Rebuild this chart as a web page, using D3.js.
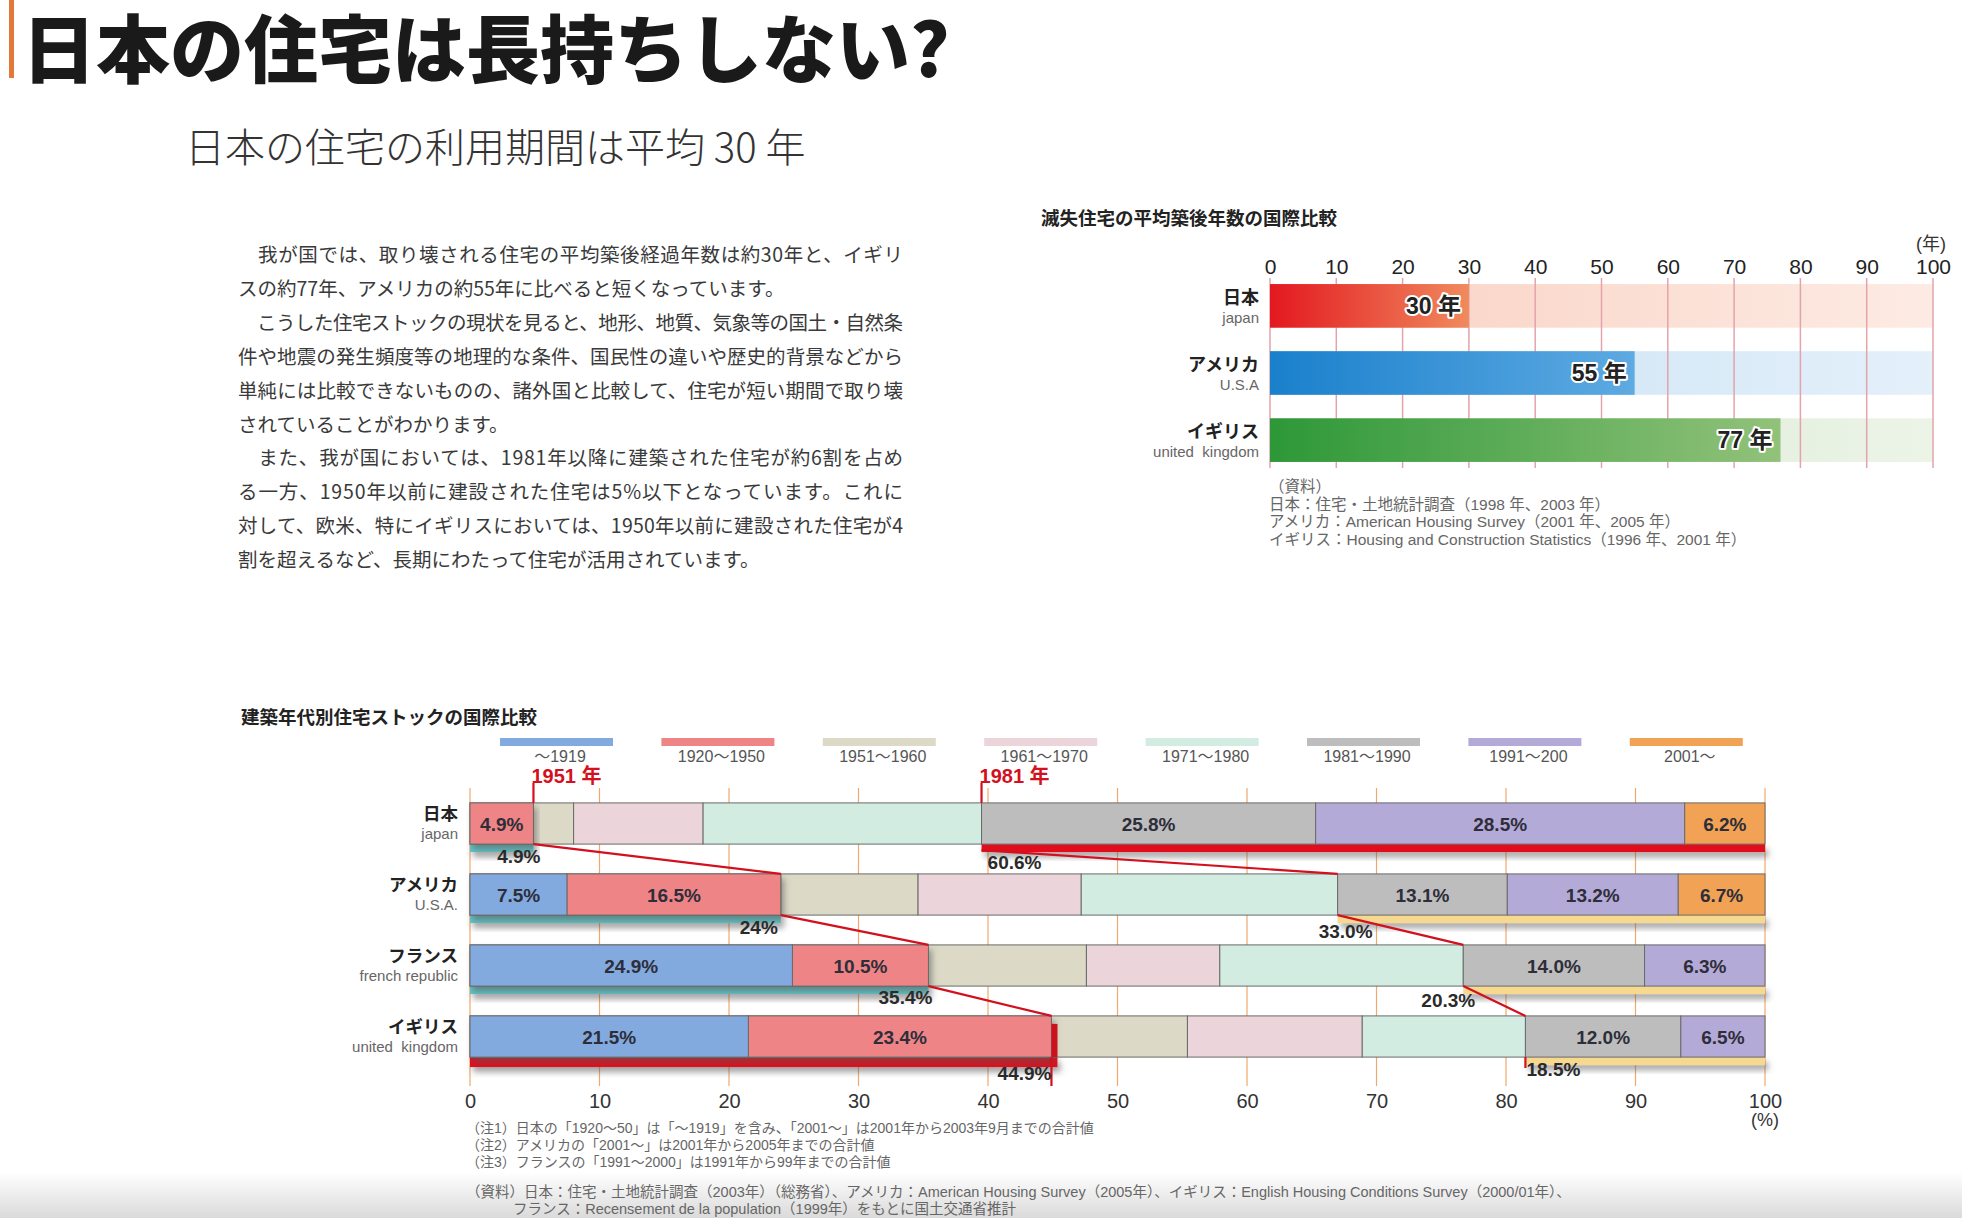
<!DOCTYPE html>
<html>
<head>
<meta charset="utf-8">
<script src="https://cdn.jsdelivr.net/npm/d3@7"></script>
<style>
  html, body { margin: 0; padding: 0; background: #fff; }
  svg text { font-family: "Noto Sans CJK JP", "Noto Sans", sans-serif; }
  .num { font-family: "Liberation Sans Narrow", "Liberation Sans", "Noto Sans CJK JP", sans-serif; }
</style>
</head>
<body>
<div id="chart"></div>
<script>
// ---- text ----
const mainTitle = "日本の住宅は長持ちしない?";
const subTitle = "日本の住宅の利用期間は平均 30 年";
const bodyLines = [
    "　我が国では、取り壊される住宅の平均築後経過年数は約30年と、イギリ",
    "スの約77年、アメリカの約55年に比べると短くなっています。",
    "　こうした住宅ストックの現状を見ると、地形、地質、気象等の国土・自然条",
    "件や地震の発生頻度等の地理的な条件、国民性の違いや歴史的背景などから",
    "単純には比較できないものの、諸外国と比較して、住宅が短い期間で取り壊",
    "されていることがわかります。",
    "　また、我が国においては、1981年以降に建築された住宅が約6割を占め",
    "る一方、1950年以前に建設された住宅は5%以下となっています。これに",
    "対して、欧米、特にイギリスにおいては、1950年以前に建設された住宅が4",
    "割を超えるなど、長期にわたって住宅が活用されています。"
];
const bodyFull = [true, false, true, true, true, false, true, true, true, false];

// ---- chart 1: average age of demolished houses ----
const lifeTitle = "滅失住宅の平均築後年数の国際比較";
const lifeCountries = ["日本", "アメリカ", "イギリス"];
const lifeCountriesEn = ["japan", "U.S.A", "united  kingdom"];
const lifeYears = [30, 55, 77];
const lifeTicks = [0, 10, 20, 30, 40, 50, 60, 70, 80, 90, 100];
const lifeSource = [
    "（資料）",
    "日本：住宅・土地統計調査（1998 年、2003 年）",
    "アメリカ：American Housing Survey（2001 年、2005 年）",
    "イギリス：Housing and Construction Statistics（1996 年、2001 年）"
];

// ---- chart 2: housing stock by construction period ----
const stockTitle = "建築年代別住宅ストックの国際比較";
const periods = ["～1919", "1920～1950", "1951～1960", "1961～1970", "1971～1980", "1981～1990", "1991～200", "2001～"];
const stockCountries = ["日本", "アメリカ", "フランス", "イギリス"];
const stockCountriesEn = ["japan", "U.S.A.", "french republic", "united  kingdom"];
const japanShares = [0, 4.9, 3.1, 10.0, 21.5, 25.8, 28.5, 6.2];
const usaShares = [7.5, 16.5, 10.6, 12.6, 19.8, 13.1, 13.2, 6.7];
const franceShares = [24.9, 10.5, 12.2, 10.3, 18.8, 14.0, 9.3, 0];
const ukShares = [21.5, 23.4, 10.5, 13.5, 12.6, 12.0, 6.5, 0];
const japanLabels = [null, "4.9%", null, null, null, "25.8%", "28.5%", "6.2%"];
const usaLabels = ["7.5%", "16.5%", null, null, null, "13.1%", "13.2%", "6.7%"];
const franceLabels = ["24.9%", "10.5%", null, null, null, "14.0%", "6.3%", null];
const ukLabels = ["21.5%", "23.4%", null, null, null, "12.0%", "6.5%", null];
const before1951Labels = ["4.9%", "24%", "35.4%", "44.9%"];
const after1981Labels = ["60.6%", "33.0%", "20.3%", "18.5%"];
const stockTicks = [0, 10, 20, 30, 40, 50, 60, 70, 80, 90, 100];
const stockNotes = [
    "（注1）日本の「1920～50」は「～1919」を含み、「2001～」は2001年から2003年9月までの合計値",
    "（注2）アメリカの「2001～」は2001年から2005年までの合計値",
    "（注3）フランスの「1991～2000」は1991年から99年までの合計値"
];
const stockSource = [
    "（資料）日本：住宅・土地統計調査（2003年）（総務省）、アメリカ：American Housing Survey（2005年）、イギリス：English Housing Conditions Survey（2000/01年）、",
    "フランス：Recensement de la population（1999年）をもとに国土交通省推計"
];

const periodColors = ["#82aadf", "#ee8486", "#dcdac6", "#ebd5da", "#d3ece2", "#bdbdbd", "#b4aad7", "#f2a255"];

// ---- page ----
const W = 1962, H = 1218;
const svg = d3.select("#chart").append("svg")
    .attr("width", W)
    .attr("height", H);

const defs = svg.append("defs");

svg.append("rect").attr("width", W).attr("height", H).attr("fill", "#fff");

// grey fade at the page bottom
const pageFade = defs.append("linearGradient").attr("id", "pageFade")
    .attr("x1", 0).attr("y1", 0).attr("x2", 0).attr("y2", 1);
pageFade.append("stop").attr("offset", 0).attr("stop-color", "#fff");
pageFade.append("stop").attr("offset", 1).attr("stop-color", "#dadada");
svg.append("rect").attr("x", 0).attr("y", 1172).attr("width", W).attr("height", 46)
    .attr("fill", "url(#pageFade)");

const shadow = defs.append("filter").attr("id", "shadow")
    .attr("x", "-5%").attr("y", "-50%").attr("width", "115%").attr("height", "250%");
shadow.append("feDropShadow").attr("dx", 3).attr("dy", 5).attr("stdDeviation", 3)
    .attr("flood-color", "#555").attr("flood-opacity", 0.55);

// title
svg.append("rect").attr("x", 9).attr("y", 0).attr("width", 5).attr("height", 78).attr("fill", "#e2793a");
svg.append("text")
    .attr("x", 22).attr("y", 77)
    .attr("font-size", 74).attr("font-weight", 900).attr("fill", "#1a1a1a")
    .text(mainTitle);

svg.append("text")
    .attr("x", 185).attr("y", 162)
    .attr("font-size", 40).attr("font-weight", 300).attr("fill", "#333")
    .text(subTitle);

svg.selectAll(".body")
    .data(bodyLines)
    .enter().append("text")
    .attr("class", "body")
    .attr("x", 238)
    .attr("y", (d, i) => 262 + i * 33.9)
    .attr("font-size", 19.5)
    .attr("fill", "#3a3a3a")
    .each(function (d, i) {
        if (bodyFull[i]) {
            d3.select(this).attr("textLength", 665).attr("lengthAdjust", "spacing");
        }
    })
    .text(d => d);

// ---- chart 1 ----
function drawLifeChart() {
    const x = d3.scaleLinear().domain([0, 100]).range([1270, 1933]);
    const y = d3.scaleBand().domain(lifeCountries).range([274, 472]).paddingInner(0.35).paddingOuter(0.15);

    const barColors = [["#e3181f", "#f08a5e"], ["#1a80cc", "#5eaae2"], ["#2d9838", "#92c27a"]];
    const bgColors = [["#f9cfc0", "#fdebe3"], ["#c6e0f4", "#e4f0fa"], ["#d2e6c8", "#ecf4e8"]];

    lifeCountries.forEach((c, i) => {
        const g1 = defs.append("linearGradient").attr("id", "lifeBar" + i);
        g1.append("stop").attr("offset", 0).attr("stop-color", barColors[i][0]);
        g1.append("stop").attr("offset", 1).attr("stop-color", barColors[i][1]);
        const g2 = defs.append("linearGradient").attr("id", "lifeBg" + i);
        g2.append("stop").attr("offset", 0).attr("stop-color", bgColors[i][0]);
        g2.append("stop").attr("offset", 1).attr("stop-color", bgColors[i][1]);
    });

    svg.append("text")
        .attr("x", 1041).attr("y", 225)
        .attr("font-size", 18.5).attr("font-weight", 700).attr("fill", "#222")
        .text(lifeTitle);

    const g = svg.append("g");

    g.selectAll(".lifeBg")
        .data(lifeYears)
        .enter().append("rect")
        .attr("x", x(0))
        .attr("y", (d, i) => y(lifeCountries[i]))
        .attr("width", x(100) - x(0))
        .attr("height", y.bandwidth())
        .attr("fill", (d, i) => `url(#lifeBg${i})`);

    g.selectAll(".lifeGrid")
        .data(lifeTicks)
        .enter().append("line")
        .attr("x1", d => x(d)).attr("x2", d => x(d))
        .attr("y1", 278).attr("y2", 468)
        .attr("stroke", "#e2a4aa").attr("stroke-width", 1.5);

    g.selectAll(".lifeBar")
        .data(lifeYears)
        .enter().append("rect")
        .attr("x", x(0))
        .attr("y", (d, i) => y(lifeCountries[i]))
        .attr("width", d => x(d) - x(0))
        .attr("height", y.bandwidth())
        .attr("fill", (d, i) => `url(#lifeBar${i})`);

    g.selectAll(".lifeVal")
        .data(lifeYears)
        .enter().append("text")
        .attr("class", "num")
        .attr("x", d => x(d) - 8)
        .attr("y", (d, i) => y(lifeCountries[i]) + y.bandwidth() / 2 + 8)
        .attr("text-anchor", "end")
        .attr("font-size", 23).attr("font-weight", 700)
        .attr("fill", "#222").attr("stroke", "#fff").attr("stroke-width", 4)
        .attr("paint-order", "stroke").attr("stroke-linejoin", "round")
        .text(d => d + " 年");

    g.selectAll(".lifeName")
        .data(lifeCountries)
        .enter().append("text")
        .attr("x", 1259)
        .attr("y", d => y(d) + 20)
        .attr("text-anchor", "end")
        .attr("font-size", 18).attr("font-weight", 700).attr("fill", "#222")
        .text(d => d);

    g.selectAll(".lifeNameEn")
        .data(lifeCountriesEn)
        .enter().append("text")
        .attr("class", "num")
        .attr("x", 1259)
        .attr("y", (d, i) => y(lifeCountries[i]) + 39)
        .attr("text-anchor", "end")
        .attr("font-size", 15).attr("fill", "#666")
        .attr("xml:space", "preserve")
        .text(d => d);

    const axis = g.append("g")
        .attr("transform", "translate(0,274)")
        .call(d3.axisTop(x).tickValues(lifeTicks).tickSize(0).tickPadding(0));
    axis.select(".domain").remove();
    axis.selectAll("text")
        .attr("class", "num")
        .attr("font-size", 21).attr("fill", "#222");

    g.append("text")
        .attr("class", "num")
        .attr("x", x(100) - 2).attr("y", 250)
        .attr("text-anchor", "middle")
        .attr("font-size", 18).attr("fill", "#333")
        .text("(年)");

    g.selectAll(".lifeSrc")
        .data(lifeSource)
        .enter().append("text")
        .attr("class", "num")
        .attr("x", 1269)
        .attr("y", (d, i) => 492 + i * 17.5)
        .attr("font-size", 15.5).attr("fill", "#666")
        .text(d => d);
}

// ---- chart 2 ----
function drawStockChart() {
    const shares = [japanShares, usaShares, franceShares, ukShares];
    const labels = [japanLabels, usaLabels, franceLabels, ukLabels];

    const x = d3.scaleLinear().domain([0, 100]).range([470, 1765]);
    const y = d3.scaleBand().domain(stockCountries).range([788, 1072]).paddingInner(0.42).paddingOuter(0.21);
    const bh = y.bandwidth();

    svg.append("text")
        .attr("x", 241).attr("y", 724)
        .attr("font-size", 18.5).attr("font-weight", 700).attr("fill", "#222")
        .text(stockTitle);

    // legend
    const legend = svg.append("g");
    legend.selectAll("rect")
        .data(periods)
        .enter().append("rect")
        .attr("x", (d, i) => 500 + i * 161.4)
        .attr("y", 738)
        .attr("width", 113).attr("height", 8)
        .attr("fill", (d, i) => periodColors[i]);
    legend.selectAll("text")
        .data(periods)
        .enter().append("text")
        .attr("class", "num")
        .attr("x", (d, i) => 500 + i * 161.4 + 60)
        .attr("y", 762)
        .attr("text-anchor", "middle")
        .attr("font-size", 16).attr("fill", "#555")
        .text(d => d);

    // grid
    svg.append("g").selectAll("line")
        .data(stockTicks)
        .enter().append("line")
        .attr("x1", d => x(d)).attr("x2", d => x(d))
        .attr("y1", 788).attr("y2", 1086)
        .attr("stroke", "#efa86e").attr("stroke-width", 1.2);

    const rows = stockCountries.map((c, r) => {
        let acc = 0;
        const segs = shares[r].map((v, k) => {
            const s = { x0: acc, x1: acc + v, k: k, label: labels[r][k] };
            acc += v;
            return s;
        });
        return {
            name: c,
            en: stockCountriesEn[r],
            segs: segs,
            left: segs[1].x1,
            right: segs[4].x1,
            top: y(c),
            bottom: y(c) + bh
        };
    });

    const leftMax = d3.maxIndex(rows, d => d.left);
    const rightMax = d3.maxIndex(rows, d => 100 - d.right);

    const g = svg.append("g");

    rows.forEach((row, r) => {
        // strips below the bars
        g.append("rect")
            .attr("x", x(0)).attr("y", row.bottom)
            .attr("width", x(row.left) - x(0) + (r === leftMax ? 6 : 0))
            .attr("height", r === leftMax ? 10 : 8)
            .attr("fill", r === leftMax ? "#e10f1c" : "#62c4c6")
            .attr("filter", "url(#shadow)");
        g.append("rect")
            .attr("x", x(row.right)).attr("y", row.bottom)
            .attr("width", x(100) - x(row.right))
            .attr("height", 8)
            .attr("fill", r === rightMax ? "#e10f1c" : "#f6d88f")
            .attr("filter", "url(#shadow)");

        const segs = row.segs.filter(s => s.x1 > s.x0);
        g.selectAll(null)
            .data(segs)
            .enter().append("rect")
            .attr("x", d => x(d.x0))
            .attr("y", row.top)
            .attr("width", d => x(d.x1) - x(d.x0))
            .attr("height", bh)
            .attr("fill", d => periodColors[d.k])
            .attr("stroke", "#6a6a6a").attr("stroke-width", 1);

        // raised block for pre-1951 stock
        const early = segs.filter(s => s.k < 2);
        const eg = g.append("g").attr("filter", "url(#shadow)");
        eg.selectAll("rect")
            .data(early)
            .enter().append("rect")
            .attr("x", d => x(d.x0))
            .attr("y", row.top)
            .attr("width", d => x(d.x1) - x(d.x0))
            .attr("height", bh)
            .attr("fill", d => periodColors[d.k])
            .attr("stroke", "#6a6a6a").attr("stroke-width", 1);
        if (r === leftMax) {
            g.append("rect")
                .attr("x", x(row.left)).attr("y", row.top + 8)
                .attr("width", 6).attr("height", bh - 8)
                .attr("fill", "#c9121c");
        }

        g.selectAll(null)
            .data(segs.filter(s => s.label))
            .enter().append("text")
            .attr("class", "num")
            .attr("x", d => (x(d.x0) + x(d.x1)) / 2)
            .attr("y", row.top + bh / 2 + 7)
            .attr("text-anchor", "middle")
            .attr("font-size", 19).attr("font-weight", 700).attr("fill", "#2e2e3a")
            .text(d => d.label);

        g.append("text")
            .attr("x", 458).attr("y", row.top + 17)
            .attr("text-anchor", "end")
            .attr("font-size", 17.5).attr("font-weight", 700).attr("fill", "#222")
            .text(row.name);
        g.append("text")
            .attr("class", "num")
            .attr("x", 458).attr("y", row.top + 36)
            .attr("text-anchor", "end")
            .attr("font-size", 15).attr("fill", "#666")
            .attr("xml:space", "preserve")
            .text(row.en);
    });

    // connectors between the rows
    const red = "#d3101d";
    const conn = svg.append("g").attr("stroke", red).attr("stroke-width", 2.2).attr("fill", "none");
    for (let r = 0; r < rows.length - 1; r++) {
        conn.append("line")
            .attr("x1", x(rows[r].left)).attr("y1", rows[r].bottom)
            .attr("x2", x(rows[r + 1].left)).attr("y2", rows[r + 1].top);
        conn.append("line")
            .attr("x1", x(rows[r].right)).attr("y1", rows[r].bottom + (r === 0 ? 6 : 0))
            .attr("x2", x(rows[r + 1].right)).attr("y2", rows[r + 1].top);
    }
    const last = rows[rows.length - 1];
    conn.append("line")
        .attr("x1", x(last.left)).attr("y1", last.bottom)
        .attr("x2", x(last.left)).attr("y2", 1086);
    conn.append("line")
        .attr("x1", x(last.right)).attr("y1", last.bottom)
        .attr("x2", x(last.right)).attr("y2", 1068);

    // 1951 / 1981 markers
    const markers = [["1951 年", rows[0].left], ["1981 年", rows[0].right]];
    markers.forEach(m => {
        conn.append("line")
            .attr("x1", x(m[1])).attr("x2", x(m[1]))
            .attr("y1", 783).attr("y2", rows[0].top);
        svg.append("text")
            .attr("class", "num")
            .attr("x", x(m[1]) - 2).attr("y", 783)
            .attr("font-size", 20).attr("font-weight", 700).attr("fill", red)
            .text(m[0]);
    });

    // cumulative labels
    const leftDx = [7, -3, 4, 0];
    const rightDx = [33, 8, -15, 28];
    const leftDy = [19, 19, 18, 23];
    const rightDy = [25, 23, 21, 19];
    const cum = svg.append("g").attr("class", "num")
        .attr("font-size", 19).attr("font-weight", 700).attr("fill", "#2a2a2a");
    rows.forEach((row, r) => {
        cum.append("text")
            .attr("class", "num")
            .attr("x", x(row.left) + leftDx[r]).attr("y", row.bottom + leftDy[r])
            .attr("text-anchor", "end")
            .text(before1951Labels[r]);
        cum.append("text")
            .attr("class", "num")
            .attr("x", x(row.right) + rightDx[r]).attr("y", row.bottom + rightDy[r])
            .attr("text-anchor", "middle")
            .text(after1981Labels[r]);
    });

    // axis
    const axis = svg.append("g")
        .attr("transform", "translate(0,1090)")
        .call(d3.axisBottom(x).tickValues(stockTicks).tickSize(0).tickPadding(0));
    axis.select(".domain").remove();
    axis.selectAll("text")
        .attr("class", "num")
        .attr("dy", "0.9em")
        .attr("font-size", 20).attr("fill", "#333");
    svg.append("text")
        .attr("class", "num")
        .attr("x", x(100)).attr("y", 1126)
        .attr("text-anchor", "middle")
        .attr("font-size", 18).attr("fill", "#333")
        .text("(%)");

    svg.selectAll(".note")
        .data(stockNotes)
        .enter().append("text")
        .attr("class", "num")
        .attr("x", 466)
        .attr("y", (d, i) => 1133 + i * 16.8)
        .attr("font-size", 14).attr("fill", "#666")
        .text(d => d);

    svg.selectAll(".src")
        .data(stockSource)
        .enter().append("text")
        .attr("class", "num")
        .attr("x", (d, i) => i === 0 ? 466 : 513)
        .attr("y", (d, i) => 1197 + i * 17)
        .attr("font-size", 14.5).attr("fill", "#666")
        .text(d => d);
}

drawLifeChart();
drawStockChart();
</script>
</body>
</html>
